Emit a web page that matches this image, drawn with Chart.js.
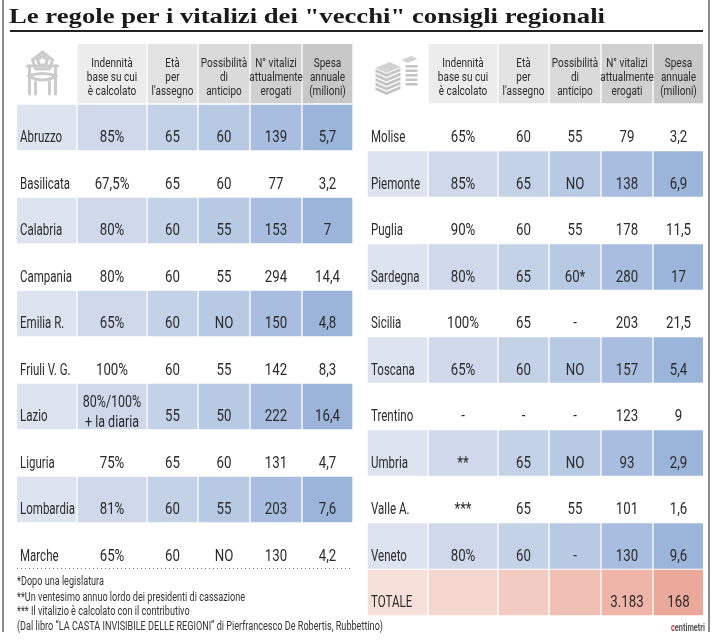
<!DOCTYPE html>
<html lang="it">
<head>
<meta charset="utf-8">
<script src="https://cdn.jsdelivr.net/npm/chart.js@4.4.1/dist/chart.umd.min.js"></script>
<style>
  html,body{margin:0;padding:0;background:#fff;}
  #wrap{position:relative;width:713px;height:641px;overflow:hidden;background:#fff;}
  #c{position:absolute;left:0;top:0;}
  .abs{position:absolute;white-space:nowrap;}
  #title{left:9px;top:5px;font-family:"Liberation Serif","DejaVu Serif",serif;font-weight:bold;font-size:22px;line-height:22px;color:#1a1a1a;transform-origin:0 0;}
  #rule{left:10px;top:30px;width:693px;height:2px;background:#222;}
  .border{top:0;width:2px;height:632px;background:#8c8c8c;}
  .note{left:17px;font-family:Roboto,"Liberation Sans",sans-serif;font-size:12px;line-height:12px;color:#333;transform-origin:0 0;}
  #logo{left:671px;top:623px;font-family:Roboto,sans-serif;font-size:10px;line-height:10px;color:#555;transform-origin:0 0;font-weight:bold;}
</style>
</head>
<body>
<div id="wrap">
  <canvas id="c" width="713" height="641"></canvas>
  <div class="abs" id="title">Le regole per i vitalizi dei "vecchi" consigli regionali</div>
  <div class="abs" id="rule"></div>
  <div class="abs border" style="left:2px"></div>
  <div class="abs border" style="left:708px"></div>
  <div class="abs note" style="top:575px">*Dopo una legislatura</div>
  <div class="abs note" style="top:591px">**Un ventesimo annuo lordo dei presidenti di cassazione</div>
  <div class="abs note" style="top:605px">*** Il vitalizio è calcolato con il contributivo</div>
  <div class="abs note" id="lastnote" style="top:620px">(Dal libro “LA CASTA INVISIBILE DELLE REGIONI” di Pierfrancesco De Robertis, Rubbettino)</div>
  <div class="abs" id="logo"><span style="color:#d0303a">c</span>entimetri</div>
</div>
<script>
// ---------------- DATA ----------------
const headerLabels = [
  ['Indennità', 'base su cui', 'è calcolato'],
  ['Età', 'per', "l'assegno"],
  ['Possibilità', 'di', 'anticipo'],
  ['N° vitalizi', 'attualmente', 'erogati'],
  ['Spesa', 'annuale', '(milioni)']
];

const leftRegions   = ['Abruzzo','Basilicata','Calabria','Campania','Emilia R.','Friuli V. G.','Lazio','Liguria','Lombardia','Marche'];
const leftIndennita = ['85%','67,5%','80%','80%','65%','100%','80%/100%\n+ la diaria','75%','81%','65%'];
const leftEta       = ['65','65','60','60','60','60','55','65','60','60'];
const leftAnticipo  = ['60','60','55','55','NO','55','50','60','55','NO'];
const leftVitalizi  = [139,77,153,294,150,142,222,131,203,130];
const leftSpesa     = [5.7,3.2,7,14.4,4.8,8.3,16.4,4.7,7.6,4.2];

const rightRegions   = ['Molise','Piemonte','Puglia','Sardegna','Sicilia','Toscana','Trentino','Umbria','Valle A.','Veneto','TOTALE'];
const rightIndennita = ['65%','85%','90%','80%','100%','65%','-','**','***','80%',''];
const rightEta       = ['60','65','60','65','65','60','-','65','65','60',''];
const rightAnticipo  = ['55','NO','55','60*','-','NO','-','NO','55','-',''];
const rightVitalizi  = [79,138,178,280,203,157,123,93,101,130,3183];
const rightSpesa     = [3.2,6.9,11.5,17,21.5,5.4,9,2.9,1.6,9.6,168];

// ---------------- LAYOUT / STYLE ----------------
const colW = [59,68,49,50,50,49];
const GAP = 2, SIDE_STEP = 351, X_MAX = 686;
const HEADER_H = 59, ROW_TOP0 = 61, ROW_STEP = 46.5, ROW_H = 45;
const Y_MAX = ROW_TOP0 + 11*ROW_STEP;
const headGray = [null,'#ececec','#e3e3e3','#dadada','#d1d1d1','#c8c8c8'];
const bodyBlue = ['#dde3ef','#cfd9eb','#c4d2e8','#b8c9e4','#a8bddf','#9bb4da'];
const totPink  = ['#f8e0da','#f5d6ce','#f2cbc2','#f0c0b4','#eeb5a8','#eba99b'];
const TXT = '#2b2b2b';

function fmtNum(v){
  const parts = String(v).split('.');
  const ip = parts[0].replace(/\B(?=(\d{3})+(?!\d))/g, '.');
  return parts.length > 1 ? ip + ',' + parts[1] : ip;
}
function colLeft(side, col){ let s = side*SIDE_STEP; for(let c=0;c<col;c++) s += colW[c] + GAP; return s; }
function colRange(side, col){ const a = colLeft(side,col); return [a, a+colW[col]]; }
function rowTop(i){ return ROW_TOP0 + i*ROW_STEP; }

const sides = [
  {regions:leftRegions, cols:[leftIndennita,leftEta,leftAnticipo,leftVitalizi.map(fmtNum),leftSpesa.map(fmtNum)], shaded:i=>i%2===0, total:i=>false},
  {regions:rightRegions, cols:[rightIndennita,rightEta,rightAnticipo,rightVitalizi.map(fmtNum),rightSpesa.map(fmtNum)], shaded:i=>i%2===1 && i<10, total:i=>i===10}
];

// Build bar data
const headData = [], headColors = [];
const bodyData = [], bodyColors = [];
sides.forEach((s, side) => {
  for (let c=1;c<6;c++){ headData.push({x:colRange(side,c), y:HEADER_H/2}); headColors.push(headGray[c]); }
  s.regions.forEach((r,i) => {
    if (s.shaded(i) || s.total(i)) {
      for (let c=0;c<6;c++){
        bodyData.push({x:colRange(side,c), y:rowTop(i)+ROW_H/2});
        bodyColors.push(s.total(i) ? totPink[c] : bodyBlue[c]);
      }
    }
  });
});

function txt(ctx, s, px, py, font, sx, align){
  ctx.save(); ctx.font = font; ctx.textAlign = align; ctx.textBaseline = 'alphabetic'; ctx.fillStyle = TXT;
  ctx.translate(px, py); ctx.scale(sx, 1); ctx.fillText(s, 0, 0); ctx.restore();
}

function drawChair(ctx, cx, top){
  ctx.save(); ctx.strokeStyle = '#cbcbcb'; ctx.lineWidth = 3; ctx.lineJoin='round'; ctx.lineCap='round';
  const x = cx - 4;
  ctx.beginPath();
  ctx.moveTo(x-10, top+16); ctx.lineTo(x, top+8); ctx.lineTo(x+10, top+16);
  ctx.lineTo(x+7, top+25); ctx.lineTo(x-7, top+25); ctx.closePath(); ctx.stroke();
  ctx.beginPath(); ctx.moveTo(x-5, top+16); ctx.lineTo(x, top+12); ctx.lineTo(x+5,top+16); ctx.lineTo(x+3,top+21); ctx.lineTo(x-3,top+21); ctx.closePath(); ctx.stroke();
  ctx.beginPath();
  ctx.moveTo(x-13, top+22); ctx.lineTo(x-13, top+50);
  ctx.moveTo(x+13, top+22); ctx.lineTo(x+13, top+50);
  ctx.moveTo(x-7, top+38); ctx.lineTo(x-7, top+50);
  ctx.moveTo(x+7, top+38); ctx.lineTo(x+7, top+50);
  ctx.stroke();
  ctx.beginPath();
  ctx.moveTo(x-14, top+32); ctx.quadraticCurveTo(x, top+27, x+14, top+32);
  ctx.quadraticCurveTo(x, top+40, x-14, top+32); ctx.stroke();
  ctx.beginPath(); ctx.moveTo(x-15,top+22); ctx.lineTo(x+15,top+22); ctx.stroke();
  ctx.restore();
}
function drawPapers(ctx, cx, top){
  ctx.save();
  const x = cx - 10;
  // left stack: top sheet seen in perspective + stacked edges
  ctx.fillStyle = '#d2d2d2';
  ctx.beginPath(); ctx.moveTo(x-12, top+24); ctx.lineTo(x+2, top+18); ctx.lineTo(x+13, top+23); ctx.lineTo(x-1, top+29); ctx.closePath(); ctx.fill();
  ctx.fillStyle = '#c4c4c4';
  for (let k=0;k<5;k++){
    const yy = top + 29 + k*4.5;
    ctx.beginPath(); ctx.moveTo(x-12, yy-4); ctx.lineTo(x-1, yy+1); ctx.lineTo(x+13, yy-5); ctx.lineTo(x+13, yy-2); ctx.lineTo(x-1, yy+4); ctx.lineTo(x-12, yy-1); ctx.closePath(); ctx.fill();
  }
  // right stack
  ctx.fillStyle = '#d2d2d2';
  ctx.beginPath(); ctx.moveTo(x+14, top+16); ctx.lineTo(x+24, top+12); ctx.lineTo(x+30, top+15); ctx.lineTo(x+20, top+19); ctx.closePath(); ctx.fill();
  ctx.fillStyle = '#c4c4c4';
  for (let k=0;k<5;k++){
    const yy = top + 21 + k*4.5;
    ctx.fillRect(x+18, yy, 12, 2.5);
  }
  ctx.restore();
}

const tablePlugin = {
  id: 'tableText',
  afterDatasetsDraw(chart){
    const ctx = chart.ctx, xs = chart.scales.x, ys = chart.scales.y;
    const headTop = ys.getPixelForValue(0);
    sides.forEach((s, side) => {
      const icx = xs.getPixelForValue(colLeft(side,0) + colW[0]/2);
      if (side === 0) drawChair(ctx, icx, headTop); else drawPapers(ctx, icx, headTop);
      headerLabels.forEach((lines, k) => {
        const cx = xs.getPixelForValue(colLeft(side,k+1) + colW[k+1]/2);
        lines.forEach((ln, j) => txt(ctx, ln, cx, headTop + 23 + 14*j, '12.5px Roboto', 0.8, 'center'));
      });
      s.regions.forEach((r, i) => {
        const top = ys.getPixelForValue(rowTop(i));
        txt(ctx, r, xs.getPixelForValue(colLeft(side,0)) + 3, top + 37, '16px Roboto', 0.72, 'left');
        s.cols.forEach((col, k) => {
          const v = col[i]; if (!v) return;
          const cx = xs.getPixelForValue(colLeft(side,k+1) + colW[k+1]/2);
          const lines = v.split('\n');
          if (lines.length === 1) txt(ctx, v, cx, top + 37, '17px Roboto', 0.78, 'center');
          else lines.forEach((ln, j) => txt(ctx, ln, cx, top + 23 + 20*j, '16px Roboto', 0.78, 'center'));
        });
      });
    });
    const yl = Math.round(ys.getPixelForValue(rowTop(leftRegions.length))) - 1.5;
    ctx.save(); ctx.strokeStyle = '#777'; ctx.lineWidth = 1; ctx.setLineDash([1,3]);
    ctx.beginPath(); ctx.moveTo(xs.getPixelForValue(colLeft(0,0)), yl); ctx.lineTo(xs.getPixelForValue(colLeft(0,5)+colW[5]), yl); ctx.stroke();
    ctx.restore();
  }
};

new Chart(document.getElementById('c'), {
  type: 'bar',
  data: {
    datasets: [
      {label:'header', data: headData, backgroundColor: headColors, barThickness: HEADER_H, grouped:false, borderWidth:0, borderSkipped:false},
      {label:'body', data: bodyData, backgroundColor: bodyColors, barThickness: ROW_H, grouped:false, borderWidth:0, borderSkipped:false}
    ]
  },
  options: {
    indexAxis: 'y',
    responsive: false,
    animation: false,
    devicePixelRatio: 1,
    layout: {padding: {left:17, right:713-17-X_MAX, top:44, bottom:641-44-Y_MAX}},
    scales: {
      x: {type:'linear', min:0, max:X_MAX, display:false, offset:false, grid:{display:false}},
      y: {type:'linear', min:0, max:Y_MAX, reverse:true, display:false, offset:false, grid:{display:false}}
    },
    plugins: {legend:{display:false}, tooltip:{enabled:false}, title:{display:false}}
  },
  plugins: [tablePlugin]
});

(function(){
  const t = document.getElementById('title');
  const tw = t.getBoundingClientRect().width;
  t.style.transform = 'scaleX(' + (596/tw) + ')';
  const ln = document.getElementById('lastnote');
  const sw = 366 / ln.getBoundingClientRect().width;
  document.querySelectorAll('.note').forEach(n => n.style.transform = 'scaleX(' + sw + ')');
  const lg = document.getElementById('logo');
  lg.style.transform = 'scaleX(' + (34/lg.getBoundingClientRect().width) + ')';
})();
</script>
</body>
</html>
